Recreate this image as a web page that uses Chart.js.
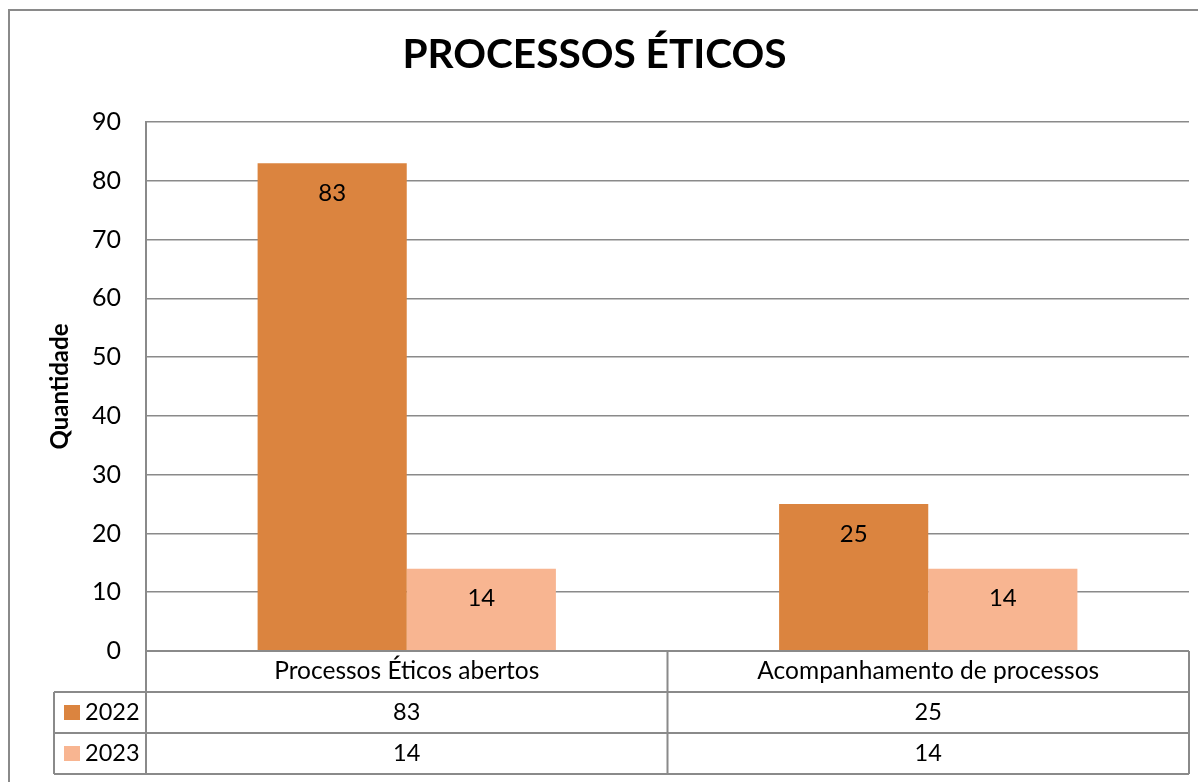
<!DOCTYPE html>
<html lang="pt">
<head>
<meta charset="utf-8">
<title>Processos Éticos</title>
<script src="https://cdn.jsdelivr.net/npm/chart.js@4/dist/chart.umd.min.js"></script>
<style>
    html, body { margin: 0; padding: 0; background: #ffffff; }
    #wrap { width: 1198px; height: 782px; position: relative; }
</style>
</head>
<body>
<div id="wrap"><canvas id="chart" width="1198" height="782"></canvas></div>
<script>
// dados do gráfico
const categories = ['Processos Éticos abertos', 'Acompanhamento de processos'];
const seriesNames = ['2022', '2023'];
const values2022 = [83, 25];
const values2023 = [14, 14];
const yMin = 0;
const yMax = 90;
const yStep = 10;

const colors = ['#DB843F', '#F8B591'];
const lineGray = '#8a8a8a';
const fontFamily = 'Lato, "Liberation Sans", sans-serif';

document.addEventListener('DOMContentLoaded', function() {

    // moldura externa da figura
    const framePlugin = {
        id: 'frame',
        beforeDraw(chart) {
            const ctx = chart.ctx;
            ctx.save();
            ctx.strokeStyle = lineGray;
            ctx.lineWidth = 2;
            ctx.strokeRect(9, 10, chart.width + 20, chart.height + 20);
            ctx.restore();
        }
    };

    // rótulos de valor dentro das barras
    const valueLabels = {
        id: 'valueLabels',
        afterDatasetsDraw(chart) {
            const ctx = chart.ctx;
            ctx.save();
            ctx.font = '24px ' + fontFamily;
            ctx.fillStyle = '#000000';
            ctx.textAlign = 'center';
            ctx.textBaseline = 'middle';
            chart.data.datasets.forEach((ds, di) => {
                chart.getDatasetMeta(di).data.forEach((bar, i) => {
                    ctx.fillText(String(ds.data[i]), bar.x, bar.y + 30);
                });
            });
            ctx.restore();
        }
    };

    // tabela de dados abaixo do gráfico (estilo Excel)
    const dataTable = {
        id: 'dataTable',
        afterDraw(chart) {
            const ctx = chart.ctx;
            const area = chart.chartArea;
            const colW = area.width / categories.length;
            const rowH = 41;
            const top = area.bottom;
            const keyLeft = 54;
            const nRows = seriesNames.length;
            const bottom = top + rowH * (nRows + 1);

            ctx.save();
            ctx.strokeStyle = lineGray;
            ctx.lineWidth = 2;

            // linhas horizontais
            ctx.beginPath();
            ctx.moveTo(area.left, top);
            ctx.lineTo(area.right, top);
            for (let r = 1; r <= nRows + 1; r++) {
                ctx.moveTo(keyLeft, top + rowH * r);
                ctx.lineTo(area.right, top + rowH * r);
            }
            // linhas verticais
            ctx.moveTo(keyLeft, top + rowH);
            ctx.lineTo(keyLeft, bottom);
            for (let c = 0; c <= categories.length; c++) {
                const x = area.left + colW * c;
                ctx.moveTo(x, top);
                ctx.lineTo(x, bottom);
            }
            ctx.stroke();

            ctx.fillStyle = '#000000';
            ctx.textBaseline = 'middle';
            ctx.textAlign = 'center';

            // cabeçalho com as categorias
            ctx.font = '24.5px ' + fontFamily;
            categories.forEach((cat, c) => {
                ctx.fillText(cat, area.left + colW * (c + 0.5), top + rowH / 2);
            });

            // linhas de cada série
            ctx.font = '23.5px ' + fontFamily;
            chart.data.datasets.forEach((ds, r) => {
                const cy = top + rowH * (r + 1.5);
                ctx.fillStyle = ds.backgroundColor;
                ctx.fillRect(keyLeft + 10, cy - 7.5, 16, 15);
                ctx.fillStyle = '#000000';
                ctx.textAlign = 'left';
                ctx.fillText(ds.label, keyLeft + 31, cy);
                ctx.textAlign = 'center';
                ds.data.forEach((v, c) => {
                    ctx.fillText(String(v), area.left + colW * (c + 0.5), cy);
                });
            });
            ctx.restore();
        }
    };

    const ctx = document.getElementById('chart').getContext('2d');
    new Chart(ctx, {
        type: 'bar',
        data: {
            labels: categories,
            datasets: [
                {
                    label: seriesNames[0],
                    data: values2022,
                    backgroundColor: colors[0],
                    categoryPercentage: 0.572,
                    barPercentage: 1.0
                },
                {
                    label: seriesNames[1],
                    data: values2023,
                    backgroundColor: colors[1],
                    categoryPercentage: 0.572,
                    barPercentage: 1.0
                }
            ]
        },
        options: {
            responsive: false,
            animation: false,
            layout: {
                padding: { left: 0, right: 9, top: 0, bottom: 131 }
            },
            plugins: {
                legend: { display: false },
                tooltip: { enabled: false },
                title: {
                    display: true,
                    text: 'PROCESSOS ÉTICOS',
                    color: '#000000',
                    font: { family: fontFamily, size: 40.6, weight: 'bold', lineHeight: 1.2 },
                    padding: { top: 30.6, bottom: 42.7 }
                }
            },
            scales: {
                x: {
                    display: false
                },
                y: {
                    min: yMin,
                    max: yMax,
                    afterFit: function(scale) {
                        scale.width = 146;
                    },
                    ticks: {
                        stepSize: yStep,
                        color: '#000000',
                        padding: 25,
                        font: { family: fontFamily, size: 25 }
                    },
                    grid: {
                        color: lineGray,
                        lineWidth: 1.5,
                        drawTicks: false
                    },
                    border: {
                        display: true,
                        color: lineGray,
                        width: 2
                    },
                    title: {
                        display: true,
                        text: 'Quantidade',
                        color: '#000000',
                        font: { family: fontFamily, size: 24, weight: 'bold', lineHeight: 1.2 },
                        padding: { top: 45.6, bottom: 0 }
                    }
                }
            }
        },
        plugins: [framePlugin, valueLabels, dataTable]
    });
});
</script>
</body>
</html>
